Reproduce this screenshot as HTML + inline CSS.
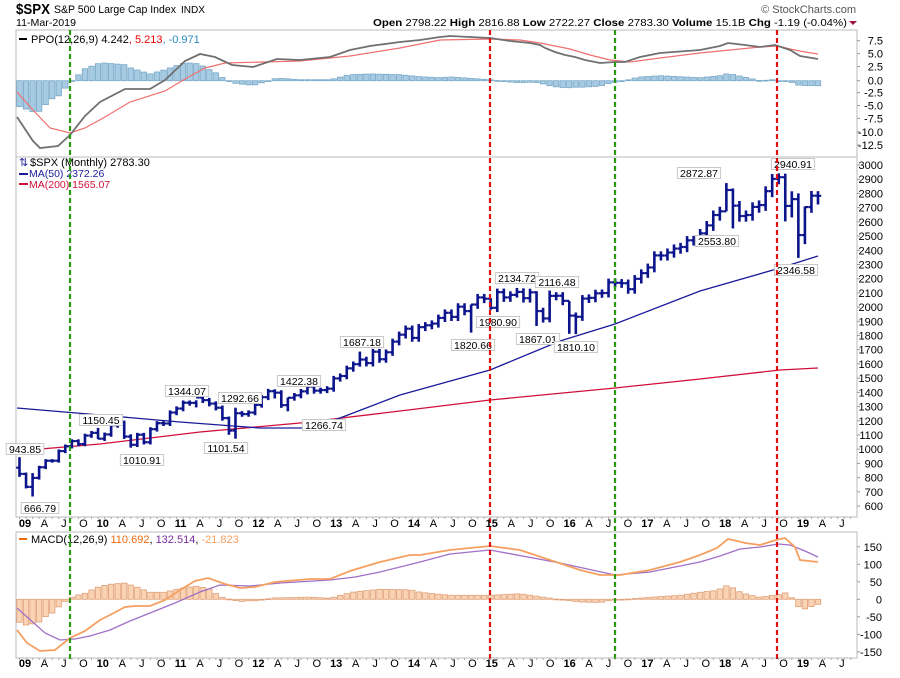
<!DOCTYPE html>
<html><head><meta charset="utf-8">
<style>
html,body{margin:0;padding:0;background:#fff;}
body{width:900px;height:673px;overflow:hidden;font-family:"Liberation Sans",sans-serif;}
svg text{font-family:"Liberation Sans",sans-serif;}
</style></head>
<body>
<svg id="c" width="900" height="673" viewBox="0 0 900 673" xmlns="http://www.w3.org/2000/svg">
<text x="16" y="14" font-size="15" font-weight="bold" textLength="34" lengthAdjust="spacingAndGlyphs">$SPX</text>
<text x="54" y="13" font-size="11" textLength="122" lengthAdjust="spacingAndGlyphs">S&amp;P 500 Large Cap Index</text>
<text x="181" y="13" font-size="10" textLength="24" lengthAdjust="spacingAndGlyphs">INDX</text>
<text x="16" y="26" font-size="10.5" textLength="60" lengthAdjust="spacingAndGlyphs">11-Mar-2019</text>
<text x="856" y="13" font-size="11" fill="#555" text-anchor="end">© StockCharts.com</text>
<text x="373" y="26" font-size="10.5" textLength="474" lengthAdjust="spacingAndGlyphs"><tspan font-weight="bold">Open</tspan> 2798.22  <tspan font-weight="bold">High</tspan> 2816.88  <tspan font-weight="bold">Low</tspan> 2722.27  <tspan font-weight="bold">Close</tspan> 2783.30  <tspan font-weight="bold">Volume</tspan> 15.1B  <tspan font-weight="bold">Chg</tspan> -1.19 (-0.04%)</text>
<polygon points="849,21 857,21 853,25" fill="#a01040"/>
<g id="g"></g>
</svg>
<script>
const g=document.getElementById('g');let s='';
const L=16,R=857;
s+=`<rect x="${L}" y="30" width="${R-L}" height="127" fill="none" stroke="#bbb"/>`;
s+=`<rect x="${L}" y="157" width="${R-L}" height="360" fill="none" stroke="#bbb"/>`;
s+=`<rect x="${L}" y="532" width="${R-L}" height="126" fill="none" stroke="#bbb"/>`;
function interp(pts,x){if(x<=pts[0][0])return pts[0][1];for(let i=1;i<pts.length;i++){if(x<=pts[i][0]){const a=pts[i-1],b=pts[i];return a[1]+(b[1]-a[1])*(x-a[0])/(b[0]-a[0]);}}return pts[pts.length-1][1];}
function pl(p,c,w){return `<polyline points="${p.map(q=>q.join(',')).join(' ')}" fill="none" stroke="${c}" stroke-width="${w}"/>`;}
const X=m=>19.5+m*6.545;
const pg=[[17,117],[33,141],[40,148],[58,146],[70,135],[85,116],[100,102],[125,89],[150,89],[165,80],[185,61],[200,54],[215,57],[232,65],[253,67],[277,59],[300,60],[330,57],[350,50],[370,46],[400,42],[420,40],[440,37],[450,36],[490,38],[510,41],[530,43],[540,45],[545,48],[555,52],[565,55],[575,57],[585,60],[600,63],[615,62],[625,62],[640,57],[660,53],[700,50],[720,46],[728,43],[745,45],[760,47],[775,45],[790,50],[800,56],[818,59]];
const pr=[[17,92],[33,110],[50,128],[70,133],[85,128],[105,117],[130,102],[165,91],[185,79],[205,68],[225,63],[300,61],[350,56],[400,48],[440,40],[490,39],[520,40],[540,43],[570,49],[590,55],[610,60],[630,62],[660,58],[700,53],[730,50],[760,47],[778,46],[790,49],[805,52],[818,54]];
const z1=80.7;
for(let m=0;m<=122;m++){const x=X(m);const d=interp(pg,x)-interp(pr,x);const y=Math.min(z1,z1+d),h=Math.max(Math.abs(d),0.8);
s+=`<rect x="${x-2.7}" y="${y}" width="5.4" height="${h}" fill="#a6cbe3" stroke="#78a8c8" stroke-width="0.8"/>`;}
s+=pl(pr,'#f07070',1.2)+pl(pg,'#707070',1.8);
[[7.5,40.7],[5.0,53.6],[2.5,66.5],[0.0,80.7],[-2.5,92.6],[-5.0,105.5],[-7.5,118.4],[-10.0,132],[-12.5,145]].forEach(a=>{s+=`<line x1="${R}" x2="${R+3}" y1="${a[1]}" y2="${a[1]}" stroke="#999"/><text x="883" y="${a[1]+4}" font-size="11" text-anchor="end">${a[0].toFixed(1)}</text>`;});
s+=`<line x1="19" x2="27" y1="39" y2="39" stroke="#000" stroke-width="2"/><text x="31" y="43" font-size="11">PPO(12,26,9) 4.242<tspan fill="#e00">, 5.213</tspan><tspan fill="#2a8ac0">, -0.971</tspan></text>`;
const Y=v=>165+(3000-v)*0.1421;
const C=[826,735,798,873,919,919,987,1021,1057,1036,1096,1115,1074,1104,1169,1187,1089,1031,1102,1049,1141,1183,1181,1258,1286,1327,1326,1364,1345,1321,1292,1219,1131,1253,1247,1258,1312,1366,1408,1398,1310,1362,1379,1407,1441,1412,1416,1426,1498,1515,1569,1598,1631,1606,1686,1633,1682,1757,1806,1848,1783,1859,1872,1884,1924,1960,1931,2003,1972,2018,2068,2059,1995,2105,2068,2086,2107,2063,2104,1972,1920,2079,2080,2044,1940,1932,2060,2065,2097,2099,2174,2171,2168,2126,2199,2239,2279,2364,2363,2384,2412,2423,2470,2472,2519,2575,2648,2674,2824,2714,2641,2648,2705,2718,2816,2902,2914,2712,2760,2507,2704,2784,2783];
const OH={0:[943.85,805],2:[832,667],12:[1150,1071],17:[1105,1010.9],27:[1344,1294],32:[1230,1101.5],33:[1292,1074],39:[1422,1357],40:[1415,1291],41:[1363,1266.7],52:[1687,1581],69:[2018,1820.7],72:[2064,1980.9],76:[2134.7,2067],79:[2112,1867],81:[2116.5,1893],84:[2043,1812],85:[1962,1810],108:[2872.9,2674],109:[2835,2553.8],116:[2940.9,2864],117:[2939,2603],118:[2815,2631],119:[2800,2346.6],120:[2708,2443],122:[2816,2722]};
const ma50=[[17,408],[100,415],[180,422],[260,428],[310,428],[340,418],[400,395],[490,370],[560,341],[615,324],[700,291],[780,268],[818,256]];
const ma200=[[17,451],[100,444],[200,432],[300,423],[400,411],[490,400],[615,388],[700,379],[780,370],[818,368]];
s+=pl(ma200,'#d0103a',1.3)+pl(ma50,'#1a1a9a',1.3);
for(let m=0;m<C.length;m++){const c=C[m],o=m?C[m-1]:870;let h,l;if(OH[m]){h=OH[m][0];l=OH[m][1];}else{h=Math.max(o,c)*1.012;l=Math.min(o,c)*0.985;}
const x=X(m);s+=`<line x1="${x}" x2="${x}" y1="${Y(h)}" y2="${Y(l)}" stroke="#0c148c" stroke-width="2.6"/><line x1="${x-3.2}" x2="${x}" y1="${Y(o)}" y2="${Y(o)}" stroke="#0c148c" stroke-width="2.2"/><line x1="${x}" x2="${x+3.2}" y1="${Y(c)}" y2="${Y(c)}" stroke="#0c148c" stroke-width="2.2"/>`;}
for(let v=600;v<=3000;v+=100){const y=Y(v);s+=`<line x1="${R}" x2="${R+3}" y1="${y}" y2="${y}" stroke="#999"/><text x="883" y="${y+4}" font-size="11" text-anchor="end">${v}</text>`;}
s+=`<text x="19" y="166" font-size="11" fill="#1a1a9a">⇅</text><text x="30" y="166" font-size="11">$SPX (Monthly) 2783.30</text>`;
s+=`<line x1="19" x2="28" y1="174" y2="174" stroke="#1a1a9a" stroke-width="2"/><text x="29" y="177" font-size="10.5" fill="#1a1a9a">MA(50) 2372.26</text>`;
s+=`<line x1="19" x2="28" y1="184" y2="184" stroke="#d0103a" stroke-width="2"/><text x="29" y="188" font-size="10.5" fill="#d0103a">MA(200) 1565.07</text>`;
const labs=[["943.85",25,449],["666.79",40,508],["1150.45",101,420],["1010.91",142,460],["1344.07",187,391],["1101.54",226,448],["1292.66",240,398],["1422.38",299,381],["1266.74",324,425],["1687.18",362,342],["1820.66",473,345],["1980.90",498,322],["2134.72",517,278],["1867.01",538,339],["2116.48",557,282],["1810.10",576,347],["2872.87",699,173],["2553.80",717,241],["2940.91",793,164],["2346.58",796,270]];
labs.forEach(a=>{const w=a[0].length*5.6+4;s+=`<rect x="${a[1]-w/2}" y="${a[2]-5.5}" width="${w}" height="11" fill="#fff" stroke="#c8c8c8"/><text x="${a[1]}" y="${a[2]+4}" font-size="10.5" text-anchor="middle">${a[0]}</text>`;});
const mo=[[17,630],[27,643],[40,651],[55,650],[70,638],[85,631],[100,620],[110,615],[125,607],[135,606],[150,606],[165,600],[180,590],[195,581],[208,578],[225,584],[240,588],[255,587],[275,582],[310,579],[330,579],[350,571],[380,562],[410,555],[420,555],[450,550],[490,546],[520,550],[550,560],[580,570],[600,575],[620,575],[650,570],[680,562],[700,555],[717,548],[728,539],[733,540],[745,543],[760,545],[776,540],[785,538],[795,547],[800,560],[818,562]];
const mp=[[17,608],[45,633],[60,640],[75,639],[90,636],[110,630],[130,621],[150,613],[175,603],[200,592],[220,585],[250,586],[280,583],[330,580],[355,577],[380,572],[420,562],[450,554],[490,550],[560,563],[615,575],[650,572],[700,562],[720,556],[740,549],[760,547],[778,544],[790,545],[805,551],[818,557]];
const z2=599.3;
for(let m=0;m<=122;m++){const x=X(m);const d=interp(mo,x)-interp(mp,x);const y=Math.min(z2,z2+d),h=Math.max(Math.abs(d),0.8);
s+=`<rect x="${x-2.7}" y="${y}" width="5.4" height="${h}" fill="#f9d3b4" stroke="#e0a078" stroke-width="0.8"/>`;}
s+=pl(mp,'#a070c8',1.3)+pl(mo,'#f5a060',1.8);
[150,100,50,0,-50,-100,-150].forEach(v=>{const y=z2-v*0.35;s+=`<line x1="${R}" x2="${R+3}" y1="${y}" y2="${y}" stroke="#999"/><text x="882" y="${y+4}" font-size="11" text-anchor="end">${v}</text>`;});
s+=`<line x1="19" x2="27" y1="539" y2="539" stroke="#f06a10" stroke-width="2"/><text x="31" y="543" font-size="11">MACD(12,26,9) <tspan fill="#f06a10">110.692</tspan>, <tspan fill="#7a2aa0">132.514</tspan>, <tspan fill="#f5a060">-21.823</tspan></text>`;
[[70,'#2a9a10'],[615,'#2a9a10'],[490,'#e01010'],[777,'#e01010']].forEach(a=>{s+=`<line x1="${a[0]}" x2="${a[0]}" y1="30" y2="660" stroke="${a[1]}" stroke-width="2.2" stroke-dasharray="5,3"/>`;});
[527,667].forEach(yy=>{for(let q=0;q<43;q++){const x=25+q*19.45;const yr=9+Math.floor(q/4);const k=q%4;const t=k==0?String(yr).padStart(2,'0'):['','A','J','O'][k];
s+=`<text x="${x}" y="${yy}" font-size="11" text-anchor="middle" ${k==0?'font-weight="bold"':''}>${t}</text>`;}
});
for(let m=0;m<=127;m++){const x=X(m);s+=`<line x1="${x}" x2="${x}" y1="517" y2="519" stroke="#aaa"/><line x1="${x}" x2="${x}" y1="658" y2="660" stroke="#aaa"/>`;}
g.innerHTML=s;
</script>
</body></html>
